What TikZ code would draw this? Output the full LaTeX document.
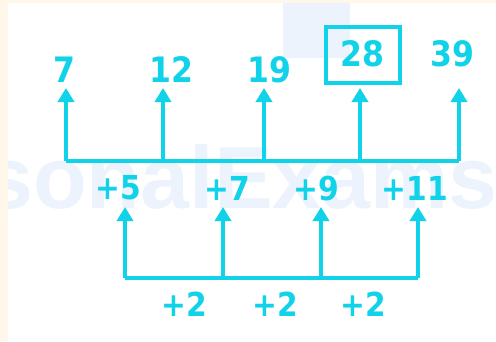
\documentclass[tikz,border=0pt]{standalone}
\usepackage{fontspec}
\usetikzlibrary{arrows.meta}
\newfontfamily\numf{DejaVu Sans Condensed}
\newfontfamily\wmf{Liberation Sans}
\definecolor{cy}{RGB}{16,210,232}
\definecolor{wm}{RGB}{236,243,253}
\definecolor{cream}{RGB}{255,247,234}
\tikzset{
  num/.style={text=cy,font=\numf\bfseries\fontsize{35}{40}\selectfont,inner sep=0pt},
  inc/.style={text=cy,font=\numf\bfseries\fontsize{33}{40}\selectfont,inner sep=0pt},
  bus/.style={draw=cy,line width=3.5pt,line join=miter},
  arr/.style={draw=cy,line width=3.5pt,-{Triangle[width=16pt,length=14pt]}},
}
\begin{document}
\begin{tikzpicture}[x=1pt,y=-1pt]
\useasboundingbox (0,0) rectangle (496,341);
\fill[white] (0,0) rectangle (496,341);
% watermark
\begin{scope}
\clip (0,0) rectangle (496,341);
\fill[wm] (283,3) rectangle (350,58);
\node[anchor=base west,inner sep=0pt,text=wm,font=\wmf\bfseries\fontsize{88}{90}\selectfont] (wmk) at (-16,208) {sonalExams};
\end{scope}
\fill[cream] (0,0) rectangle (8,341);
\fill[cream] (0,0) rectangle (496,3);
% top row
\node[num] (n7) at (64,70) {7};
\node[num] (n12) at (171,70) {12};
\node[num] (n19) at (269,70) {19};
\node[num] (n28) at (362,54) {28};
\node[num] (n39) at (452,54) {39};
\draw[draw=cy,line width=4pt] (326,27) rectangle (400,83);
\coordinate (t1) at (66,88);
\coordinate (t2) at (163,88);
\coordinate (t3) at (264,88);
\coordinate (t4) at (360,88);
\coordinate (t5) at (459,88);
\coordinate (b1) at (66,161);
\coordinate (b2) at (163,161);
\coordinate (b3) at (264,161);
\coordinate (b4) at (360,161);
\coordinate (b5) at (459,161);
\draw[bus] (b1) -- (b5);
\foreach \i in {1,...,5} \draw[arr] (b\i) -- (t\i);
% middle row
\node[inc] (d5) at (118,188) {+5};
\node[inc] (d7) at (227,188) {+7};
\node[inc] (d9) at (316,188) {+9};
\node[inc] (d11) at (415,188) {+11};
\coordinate (u1) at (125,207);
\coordinate (u2) at (223,207);
\coordinate (u3) at (321,207);
\coordinate (u4) at (418,207);
\coordinate (c1) at (125,278);
\coordinate (c2) at (223,278);
\coordinate (c3) at (321,278);
\coordinate (c4) at (418,278);
\draw[bus] (c1) -- (c4);
\foreach \i in {1,...,4} \draw[arr] (c\i) -- (u\i);
% bottom row
\node[inc] (s1) at (184,304) {+2};
\node[inc] (s2) at (275,304) {+2};
\node[inc] (s3) at (363,304) {+2};
\end{tikzpicture}
\end{document}
